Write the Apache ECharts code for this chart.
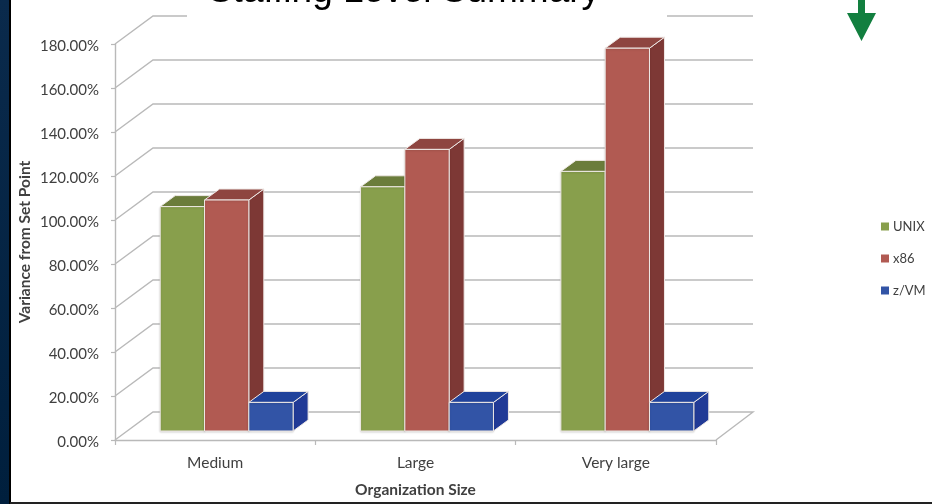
<!DOCTYPE html>
<html>
<head>
<meta charset="utf-8">
<style>html,body{margin:0;padding:0;background:#fff}#chart{width:932px;height:504px}</style>
<script src="https://cdn.jsdelivr.net/npm/echarts@6/dist/echarts.min.js"></script>
</head>
<body>
<div id="chart"></div>
<script>
const categories = ['Medium', 'Large', 'Very large'];
const unixValues = [102, 111, 118];
const x86Values = [105, 128, 174];
const zvmValues = [13, 13, 13];
const yTicks = [0, 20, 40, 60, 80, 100, 120, 140, 160, 180];

// Depth of the chart box and of each bar, in pixels
const WALL_DX = 38, WALL_DY = 28;
const BAR_DX = 15, BAR_DY = 11;
const BAR_W = 44.3, BAR_SHIFT = 11.5, BAR_LIFT = 9;
const EDGE = '#efe9e6';
const GRID_LINE = '#b9b9b9';
const TEXT = '#404040';
const FONT = 'Lato, "Open Sans", sans-serif';

function pts(list) { return { points: list }; }

// A bar seen from above-right: front face, top face and side face.
// Bars stand on the middle of the floor, so everything is lifted off the front edge.
function bar3d(slot, front, top, side) {
  return function (params, api) {
    const cat = api.value(0);
    const c = api.coord([cat, api.value(1)]);
    const base = api.coord([cat, 0]);
    const x0 = c[0] + BAR_SHIFT + (slot - 0.5) * BAR_W;
    const x1 = x0 + BAR_W;
    const yTop = c[1] - BAR_LIFT;
    const yBase = base[1] - BAR_LIFT;
    const edge = { stroke: EDGE, lineWidth: 1, lineJoin: 'round' };
    return {
      type: 'group',
      children: [
        { type: 'polygon', shape: pts([[x1, yTop], [x1 + BAR_DX, yTop - BAR_DY], [x1 + BAR_DX, yBase - BAR_DY], [x1, yBase]]),
          style: Object.assign({ fill: side }, edge) },
        { type: 'polygon', shape: pts([[x0, yTop], [x0 + BAR_DX, yTop - BAR_DY], [x1 + BAR_DX, yTop - BAR_DY], [x1, yTop]]),
          style: Object.assign({ fill: top }, edge) },
        { type: 'rect', shape: { x: x0, y: yTop, width: BAR_W, height: yBase - yTop },
          style: Object.assign({ fill: front, shadowColor: 'rgba(0,0,0,0.14)', shadowBlur: 2, shadowOffsetY: 1 }, edge) }
      ]
    };
  };
}

// Gridlines running up the left wall and along the back wall, plus the floor edge
function wallLine(params, api) {
  const v = api.value(0);
  const p = api.coord([0, v]);
  const box = params.coordSys;
  const x0 = box.x, x1 = box.x + box.width;
  const style = { stroke: GRID_LINE, lineWidth: 1.4, fill: 'none' };
  const line = [[x0, p[1]], [x0 + WALL_DX, p[1] - WALL_DY], [x1 + WALL_DX - 1, p[1] - WALL_DY]];
  if (v === 0) line.push([x1, p[1]]);
  return { type: 'polyline', shape: pts(line), style: style, silent: true };
}

function seriesFor(name, values, slot, front, top, side) {
  return {
    name: name,
    type: 'custom',
    z: 3,
    itemStyle: { color: front },
    renderItem: bar3d(slot, front, top, side),
    encode: { x: 0, y: 1 },
    data: values.map((v, i) => [i, v])
  };
}

const chart = echarts.init(document.getElementById('chart'), null, { renderer: 'canvas' });
chart.setOption({
  animation: false,
  backgroundColor: '#fff',
  textStyle: { fontFamily: FONT },
  grid: { left: 115, right: 216, top: 44, bottom: 64, outerBoundsMode: 'none' },
  legend: {
    data: ['UNIX', 'x86', 'z/VM'],
    orient: 'vertical',
    left: 881,
    top: 220,
    padding: 0,
    itemWidth: 8,
    itemHeight: 8,
    itemGap: 19,
    icon: 'rect',
    textStyle: { color: TEXT, fontSize: 13, fontFamily: FONT, padding: [0, 0, 0, -1] }
  },
  xAxis: {
    type: 'category',
    data: categories,
    name: 'Organization Size',
    nameLocation: 'middle',
    nameGap: 42,
    nameMoveOverlap: false,
    nameTextStyle: { color: TEXT, fontWeight: 'bold', fontSize: 15.5, fontFamily: FONT },
    axisLine: { lineStyle: { color: GRID_LINE, width: 1.4 } },
    axisTick: { show: true, length: 5, lineStyle: { color: GRID_LINE, width: 1.2 } },
    axisLabel: { color: TEXT, fontSize: 15.5, margin: 15, fontFamily: FONT }
  },
  yAxis: {
    type: 'value',
    min: 0,
    max: 180,
    interval: 20,
    name: 'Variance from Set Point',
    nameLocation: 'middle',
    nameGap: 82,
    nameMoveOverlap: false,
    nameTextStyle: { color: TEXT, fontWeight: 'bold', fontSize: 15.5, fontFamily: FONT },
    splitLine: { show: false },
    axisLine: { show: true, lineStyle: { color: GRID_LINE, width: 1.4 } },
    axisTick: { show: true, length: 4, lineStyle: { color: GRID_LINE, width: 1.2 } },
    axisLabel: { color: TEXT, fontSize: 15, margin: 16, verticalAlign: 'top', lineHeight: 5, fontFamily: FONT, formatter: v => v.toFixed(2) + '%' }
  },
  series: [
    {
      type: 'custom',
      z: 1,
      silent: true,
      renderItem: wallLine,
      encode: { y: 0 },
      data: yTicks.map(v => [v])
    },
    seriesFor('UNIX', unixValues, -1, '#889f4c', '#6b7c3b', '#5f7033'),
    seriesFor('x86', x86Values, 0, '#b15a52', '#8e4540', '#7d3835'),
    seriesFor('z/VM', zvmValues, 1, '#3254a6', '#20429b', '#213a96')
  ],
  graphic: [
    { type: 'rect', z: 50, shape: { x: 0, y: 0, width: 10, height: 504 },
      style: { fill: new echarts.graphic.LinearGradient(0, 0, 0, 1, [{ offset: 0, color: '#0a2a4c' }, { offset: 1, color: '#001f3d' }]) } },
    { type: 'rect', z: 50, shape: { x: 9, y: 0, width: 2, height: 504 }, style: { fill: '#000' } },
    { type: 'rect', z: 50, shape: { x: 10, y: 502, width: 922, height: 2 }, style: { fill: '#222' } },
    // Slide heading sits on its own white box, cut off by the top edge
    { type: 'rect', z: 50, shape: { x: 187, y: 0, width: 480, height: 22 }, style: { fill: '#fff' } },
    { type: 'text', z: 51, x: 404, y: 10,
      style: { text: 'Staffing Level Summary', fill: '#000', fontSize: 37, fontFamily: '"Liberation Sans", Arial, sans-serif', textAlign: 'center', textVerticalAlign: 'bottom' } },
    // Green down arrow at the top right
    { type: 'polygon', z: 50, shape: { points: [[858, 0], [865, 0], [865, 13], [876, 13], [861.5, 41], [847, 13], [858, 13]] }, style: { fill: '#127f3f' } }
  ]
});
</script>
</body>
</html>
